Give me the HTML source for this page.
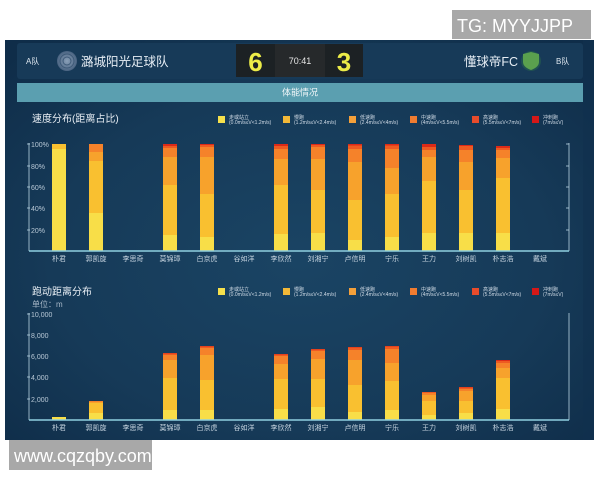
<!DOCTYPE html>
<html><head><meta charset="utf-8"><style>
html,body{margin:0;padding:0;background:#fff;}
svg{display:block;}
text{font-family:"Liberation Sans","Noto Sans CJK SC",sans-serif;}
</style></head><body>
<svg width="600" height="480" viewBox="0 0 600 480" xmlns="http://www.w3.org/2000/svg">
<defs>
<radialGradient id="bg" cx="0.5" cy="0.55" r="0.7">
<stop offset="0" stop-color="#1a4464"/><stop offset="0.6" stop-color="#163a58"/><stop offset="1" stop-color="#0f2d49"/>
</radialGradient>
<radialGradient id="lg" cx="0.5" cy="0.5" r="0.5">
<stop offset="0" stop-color="#8aa0b8"/><stop offset="1" stop-color="#4a6482"/>
</radialGradient>
<style>
.c1{fill:#f8de48}.c2{fill:#f9c030}.c3{fill:#f7a22c}.c4{fill:#f5822a}.c5{fill:#ee5a22}.c6{fill:#dc2a18}
.lt{font-size:5px;fill:#d0dbe6}
.ax{font-size:7px;fill:#b8c8d6}
.cat{font-size:7px;fill:#c5d3df;text-anchor:middle}
</style>
</defs>
<rect x="0" y="0" width="600" height="480" fill="#fff"/>
<!-- watermark top -->
<rect x="452" y="10" width="139" height="29" fill="#a8a8a8"/>
<text x="457" y="32" font-size="18" fill="#fff">TG: MYYJJPP</text>
<!-- panel -->
<rect x="5" y="40" width="589" height="400" fill="url(#bg)"/>
<rect x="583" y="40" width="11" height="400" fill="#10304e" opacity="0.6"/>
<!-- header -->
<rect x="17" y="43" width="566" height="36" rx="3" fill="#173a58"/>
<text x="26" y="64" font-size="8" fill="#dfe8f0">A队</text>
<circle cx="67" cy="61" r="10" fill="url(#lg)"/>
<circle cx="67" cy="61" r="7" fill="none" stroke="#3e5a78" stroke-width="1"/>
<circle cx="67" cy="61" r="4" fill="none" stroke="#3e5a78" stroke-width="1"/>
<text x="81" y="66" font-size="12.5" fill="#e6edf4">潞城阳光足球队</text>
<rect x="236" y="44" width="39" height="33" fill="#1c2124"/>
<rect x="275" y="44" width="50" height="33" fill="#26292b"/>
<rect x="325" y="44" width="38" height="33" fill="#1c2124"/>
<text x="255.5" y="71" font-size="26" font-weight="bold" fill="#ecec48" text-anchor="middle">6</text>
<text x="300" y="64" font-size="9" fill="#e8e8e8" text-anchor="middle">70:41</text>
<text x="344" y="71" font-size="26" font-weight="bold" fill="#ecec48" text-anchor="middle">3</text>
<text x="518" y="66" font-size="12.5" fill="#e6edf4" text-anchor="end">懂球帝FC</text>
<circle cx="531" cy="61" r="10" fill="#2a6a4a" opacity="0.5"/>
<path d="M523,54 L531,52 L539,54 L539,62 Q539,67 531,70 Q523,67 523,62 Z" fill="#5aa04e"/>
<text x="556" y="64" font-size="8" fill="#dfe8f0">B队</text>
<!-- teal bar -->
<rect x="17" y="83" width="566" height="19" fill="#5b9fb0"/>
<text x="300" y="95.5" font-size="9" fill="#f0f6f8" text-anchor="middle">体能情况</text>

<!-- ===== Chart 1 ===== -->
<text x="32" y="122" font-size="10" fill="#e8eef4">速度分布(距离占比)</text>
<g>
<rect x="218" y="116" width="7" height="7" fill="#f5e04c"/><text class="lt" x="229" y="119">走或站立</text><text class="lt" x="229" y="124">(0.0m/s≤V&lt;1.2m/s)</text>
<rect x="283" y="116" width="7" height="7" fill="#f2b838"/><text class="lt" x="294" y="119">慢跑</text><text class="lt" x="294" y="124">(1.2m/s≤V&lt;2.4m/s)</text>
<rect x="349" y="116" width="7" height="7" fill="#f4a03a"/><text class="lt" x="360" y="119">低速跑</text><text class="lt" x="360" y="124">(2.4m/s≤V&lt;4m/s)</text>
<rect x="410" y="116" width="7" height="7" fill="#f07c30"/><text class="lt" x="421" y="119">中速跑</text><text class="lt" x="421" y="124">(4m/s≤V&lt;5.5m/s)</text>
<rect x="472" y="116" width="7" height="7" fill="#e84c2c"/><text class="lt" x="483" y="119">高速跑</text><text class="lt" x="483" y="124">(5.5m/s≤V&lt;7m/s)</text>
<rect x="532" y="116" width="7" height="7" fill="#d41818"/><text class="lt" x="543" y="119">冲刺跑</text><text class="lt" x="543" y="124">(7m/s≤V)</text>
</g>
<g stroke="#b8d4e2" stroke-width="0.8">
<line x1="29" y1="143" x2="29" y2="251"/>
<line x1="27" y1="144" x2="30" y2="144"/><line x1="27" y1="166" x2="30" y2="166"/><line x1="27" y1="187" x2="30" y2="187"/><line x1="27" y1="208" x2="30" y2="208"/><line x1="27" y1="230" x2="30" y2="230"/>
<line x1="569" y1="143" x2="569" y2="251"/>
<line x1="566" y1="144" x2="569" y2="144"/><line x1="566" y1="166" x2="569" y2="166"/><line x1="566" y1="187" x2="569" y2="187"/><line x1="566" y1="208" x2="569" y2="208"/><line x1="566" y1="230" x2="569" y2="230"/>
</g>
<text class="ax" x="31" y="147">100%</text>
<text class="ax" x="31" y="169">80%</text>
<text class="ax" x="31" y="190">60%</text>
<text class="ax" x="31" y="211">40%</text>
<text class="ax" x="31" y="233">20%</text>
<g>
<rect class="c1" x="52" y="149" width="14" height="102"/><rect class="c2" x="52" y="144" width="14" height="5"/>
<rect class="c1" x="89" y="213" width="14" height="38"/><rect class="c2" x="89" y="161" width="14" height="52"/><rect class="c3" x="89" y="152" width="14" height="9"/><rect class="c4" x="89" y="144" width="14" height="8"/>
<rect class="c1" x="163" y="235" width="14" height="16"/><rect class="c2" x="163" y="185" width="14" height="50"/><rect class="c3" x="163" y="157" width="14" height="28"/><rect class="c4" x="163" y="148" width="14" height="9"/><rect class="c5" x="163" y="146" width="14" height="2"/><rect class="c6" x="163" y="144" width="14" height="2"/>
<rect class="c1" x="200" y="237" width="14" height="14"/><rect class="c2" x="200" y="194" width="14" height="43"/><rect class="c3" x="200" y="157" width="14" height="37"/><rect class="c4" x="200" y="147" width="14" height="10"/><rect class="c5" x="200" y="145" width="14" height="2"/><rect class="c6" x="200" y="144" width="14" height="1"/>
<rect class="c1" x="274" y="234" width="14" height="17"/><rect class="c2" x="274" y="185" width="14" height="49"/><rect class="c3" x="274" y="159" width="14" height="26"/><rect class="c4" x="274" y="149" width="14" height="10"/><rect class="c5" x="274" y="146" width="14" height="3"/><rect class="c6" x="274" y="144" width="14" height="2"/>
<rect class="c1" x="311" y="233" width="14" height="18"/><rect class="c2" x="311" y="190" width="14" height="43"/><rect class="c3" x="311" y="159" width="14" height="31"/><rect class="c4" x="311" y="147" width="14" height="12"/><rect class="c5" x="311" y="145" width="14" height="2"/><rect class="c6" x="311" y="144" width="14" height="1"/>
<rect class="c1" x="348" y="240" width="14" height="11"/><rect class="c2" x="348" y="200" width="14" height="40"/><rect class="c3" x="348" y="162" width="14" height="38"/><rect class="c4" x="348" y="149" width="14" height="13"/><rect class="c5" x="348" y="145.5" width="14" height="3.5"/><rect class="c6" x="348" y="144" width="14" height="1.5"/>
<rect class="c1" x="385" y="237" width="14" height="14"/><rect class="c2" x="385" y="194" width="14" height="43"/><rect class="c3" x="385" y="168" width="14" height="26"/><rect class="c4" x="385" y="149" width="14" height="19"/><rect class="c5" x="385" y="145.5" width="14" height="3.5"/><rect class="c6" x="385" y="144" width="14" height="1.5"/>
<rect class="c1" x="422" y="233" width="14" height="18"/><rect class="c2" x="422" y="181" width="14" height="52"/><rect class="c3" x="422" y="157" width="14" height="24"/><rect class="c4" x="422" y="150" width="14" height="7"/><rect class="c5" x="422" y="147" width="14" height="3"/><rect class="c6" x="422" y="144" width="14" height="3"/>
<rect class="c1" x="459" y="233" width="14" height="18"/><rect class="c2" x="459" y="190" width="14" height="43"/><rect class="c3" x="459" y="162" width="14" height="28"/><rect class="c4" x="459" y="150" width="14" height="12"/><rect class="c5" x="459" y="146" width="14" height="4"/><rect class="c6" x="459" y="145" width="14" height="1"/>
<rect class="c1" x="496" y="233" width="14" height="18"/><rect class="c2" x="496" y="178" width="14" height="55"/><rect class="c3" x="496" y="158" width="14" height="20"/><rect class="c4" x="496" y="150" width="14" height="8"/><rect class="c5" x="496" y="148" width="14" height="2"/><rect class="c6" x="496" y="146" width="14" height="2"/>
</g>
<line x1="29" y1="251" x2="569" y2="251" stroke="#8fd0e0" stroke-width="1.4"/>
<g>
<text class="cat" x="59" y="261">朴君</text><text class="cat" x="96" y="261">郭凯旋</text><text class="cat" x="133" y="261">李思奇</text><text class="cat" x="170" y="261">莫锦璋</text><text class="cat" x="207" y="261">白京虎</text><text class="cat" x="244" y="261">谷如洋</text><text class="cat" x="281" y="261">李欣然</text><text class="cat" x="318" y="261">刘湘宁</text><text class="cat" x="355" y="261">卢信明</text><text class="cat" x="392" y="261">宁乐</text><text class="cat" x="429" y="261">王力</text><text class="cat" x="466" y="261">刘树凯</text><text class="cat" x="503" y="261">朴志浩</text><text class="cat" x="540" y="261">戴斌</text>
</g>

<!-- ===== Chart 2 ===== -->
<text x="32" y="295" font-size="10" fill="#e8eef4">跑动距离分布</text>
<text x="32" y="307" font-size="8" fill="#a8b8c8">单位：m</text>
<g>
<rect x="218" y="288" width="7" height="7" fill="#f5e04c"/><text class="lt" x="229" y="291">走或站立</text><text class="lt" x="229" y="296">(0.0m/s≤V&lt;1.2m/s)</text>
<rect x="283" y="288" width="7" height="7" fill="#f2b838"/><text class="lt" x="294" y="291">慢跑</text><text class="lt" x="294" y="296">(1.2m/s≤V&lt;2.4m/s)</text>
<rect x="349" y="288" width="7" height="7" fill="#f4a03a"/><text class="lt" x="360" y="291">低速跑</text><text class="lt" x="360" y="296">(2.4m/s≤V&lt;4m/s)</text>
<rect x="410" y="288" width="7" height="7" fill="#f07c30"/><text class="lt" x="421" y="291">中速跑</text><text class="lt" x="421" y="296">(4m/s≤V&lt;5.5m/s)</text>
<rect x="472" y="288" width="7" height="7" fill="#e84c2c"/><text class="lt" x="483" y="291">高速跑</text><text class="lt" x="483" y="296">(5.5m/s≤V&lt;7m/s)</text>
<rect x="532" y="288" width="7" height="7" fill="#d41818"/><text class="lt" x="543" y="291">冲刺跑</text><text class="lt" x="543" y="296">(7m/s≤V)</text>
</g>
<g stroke="#b8d4e2" stroke-width="0.8">
<line x1="29" y1="313" x2="29" y2="420"/>
<line x1="27" y1="314" x2="30" y2="314"/><line x1="27" y1="335" x2="30" y2="335"/><line x1="27" y1="356" x2="30" y2="356"/><line x1="27" y1="377" x2="30" y2="377"/><line x1="27" y1="399" x2="30" y2="399"/>
<line x1="569" y1="313" x2="569" y2="420"/>
</g>
<text class="ax" x="31" y="317">10,000</text>
<text class="ax" x="31" y="338">8,000</text>
<text class="ax" x="31" y="359">6,000</text>
<text class="ax" x="31" y="380">4,000</text>
<text class="ax" x="31" y="402">2,000</text>
<g>
<rect class="c1" x="52" y="417" width="14" height="3"/>
<rect class="c1" x="89" y="413" width="14" height="7"/><rect class="c2" x="89" y="403" width="14" height="10"/><rect class="c3" x="89" y="402" width="14" height="1"/><rect class="c4" x="89" y="401" width="14" height="1"/>
<rect class="c1" x="163" y="410" width="14" height="10"/><rect class="c2" x="163" y="378" width="14" height="32"/><rect class="c3" x="163" y="360" width="14" height="18"/><rect class="c4" x="163" y="355" width="14" height="5"/><rect class="c5" x="163" y="353.5" width="14" height="1.5"/><rect class="c6" x="163" y="353" width="14" height="0.5"/>
<rect class="c1" x="200" y="410" width="14" height="10"/><rect class="c2" x="200" y="380" width="14" height="30"/><rect class="c3" x="200" y="355" width="14" height="25"/><rect class="c4" x="200" y="348" width="14" height="7"/><rect class="c5" x="200" y="346.5" width="14" height="1.5"/><rect class="c6" x="200" y="346" width="14" height="0.5"/>
<rect class="c1" x="274" y="409" width="14" height="11"/><rect class="c2" x="274" y="379" width="14" height="30"/><rect class="c3" x="274" y="364" width="14" height="15"/><rect class="c4" x="274" y="356" width="14" height="8"/><rect class="c5" x="274" y="354.5" width="14" height="1.5"/><rect class="c6" x="274" y="354" width="14" height="0.5"/>
<rect class="c1" x="311" y="407" width="14" height="13"/><rect class="c2" x="311" y="379" width="14" height="28"/><rect class="c3" x="311" y="359" width="14" height="20"/><rect class="c4" x="311" y="351" width="14" height="8"/><rect class="c5" x="311" y="349.5" width="14" height="1.5"/><rect class="c6" x="311" y="349" width="14" height="0.5"/>
<rect class="c1" x="348" y="412" width="14" height="8"/><rect class="c2" x="348" y="385" width="14" height="27"/><rect class="c3" x="348" y="360" width="14" height="25"/><rect class="c4" x="348" y="350" width="14" height="10"/><rect class="c5" x="348" y="347.5" width="14" height="2.5"/><rect class="c6" x="348" y="347" width="14" height="0.5"/>
<rect class="c1" x="385" y="410" width="14" height="10"/><rect class="c2" x="385" y="381" width="14" height="29"/><rect class="c3" x="385" y="363" width="14" height="18"/><rect class="c4" x="385" y="349" width="14" height="14"/><rect class="c5" x="385" y="346.5" width="14" height="2.5"/><rect class="c6" x="385" y="346" width="14" height="0.5"/>
<rect class="c1" x="422" y="415" width="14" height="5"/><rect class="c2" x="422" y="401" width="14" height="14"/><rect class="c3" x="422" y="395" width="14" height="6"/><rect class="c4" x="422" y="393" width="14" height="2"/><rect class="c5" x="422" y="392" width="14" height="1"/>
<rect class="c1" x="459" y="413" width="14" height="7"/><rect class="c2" x="459" y="401" width="14" height="12"/><rect class="c3" x="459" y="391" width="14" height="10"/><rect class="c4" x="459" y="389" width="14" height="2"/><rect class="c5" x="459" y="387.5" width="14" height="1.5"/><rect class="c6" x="459" y="387" width="14" height="0.5"/>
<rect class="c1" x="496" y="409" width="14" height="11"/><rect class="c2" x="496" y="378" width="14" height="31"/><rect class="c3" x="496" y="368" width="14" height="10"/><rect class="c4" x="496" y="363" width="14" height="5"/><rect class="c5" x="496" y="361" width="14" height="2"/><rect class="c6" x="496" y="360" width="14" height="1"/>
</g>
<line x1="29" y1="420" x2="569" y2="420" stroke="#8fd0e0" stroke-width="1.4"/>
<g>
<text class="cat" x="59" y="430">朴君</text><text class="cat" x="96" y="430">郭凯旋</text><text class="cat" x="133" y="430">李思奇</text><text class="cat" x="170" y="430">莫锦璋</text><text class="cat" x="207" y="430">白京虎</text><text class="cat" x="244" y="430">谷如洋</text><text class="cat" x="281" y="430">李欣然</text><text class="cat" x="318" y="430">刘湘宁</text><text class="cat" x="355" y="430">卢信明</text><text class="cat" x="392" y="430">宁乐</text><text class="cat" x="429" y="430">王力</text><text class="cat" x="466" y="430">刘树凯</text><text class="cat" x="503" y="430">朴志浩</text><text class="cat" x="540" y="430">戴斌</text>
</g>

<!-- watermark bottom -->
<rect x="9" y="440" width="143" height="30" fill="#a8a8a8"/>
<text x="14" y="462" font-size="18" fill="#fff">www.cqzqby.com</text>
</svg>
</body></html>
